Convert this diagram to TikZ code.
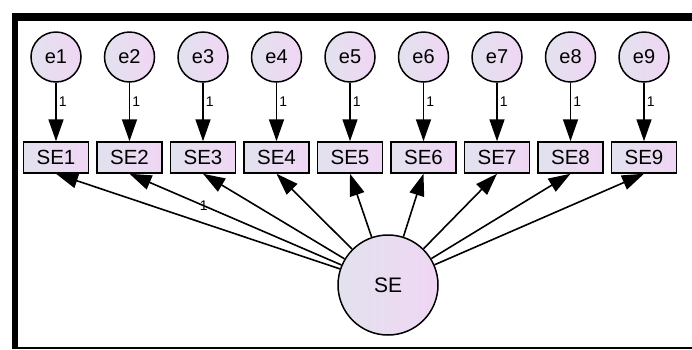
\documentclass[tikz,border=0pt]{standalone}
\usepackage{xcolor}
\usepackage{fontspec}
\setmainfont{Liberation Sans}
\usepackage{tikz}
\usetikzlibrary{positioning,arrows.meta}
\definecolor{fillL}{HTML}{E2E2EE}
\definecolor{fillR}{HTML}{F0D6F4}

\begin{document}
\begin{tikzpicture}[x=1pt,y=-1pt,
  err/.style={circle,draw,line width=1.5pt,minimum size=50pt,inner sep=0pt,
    left color=fillL,right color=fillR,font=\fontsize{20}{24}\selectfont},
  obs/.style={rectangle,draw,line width=1.5pt,minimum width=65pt,minimum height=31pt,
    inner sep=0pt,left color=fillL,right color=fillR,font=\fontsize{20.5}{24}\selectfont},
  lat/.style={circle,draw,line width=1.5pt,minimum size=100pt,inner sep=0pt,
    left color=fillL,right color=fillR,font=\fontsize{21}{25}\selectfont},
  arr/.style={-{Triangle[length=22pt,width=15pt]},line width=1.6pt},
  wt/.style={font=\fontsize{14}{16}\selectfont,inner sep=1pt}]
\useasboundingbox (0,0) rectangle (692,349);
% frame
\fill[black] (12,13) rectangle (692,21);
\fill[black] (12,13) rectangle (18,349);
\fill[black] (12,346.5) rectangle (692,349);
% errors
\node[err] (e1) at (56,57) {e1};
\node[err] (e2) at (129.5,57) {e2};
\node[err] (e3) at (203,57) {e3};
\node[err] (e4) at (276.5,57) {e4};
\node[err] (e5) at (350,57) {e5};
\node[err] (e6) at (423.5,57) {e6};
\node[err] (e7) at (497,57) {e7};
\node[err] (e8) at (570.5,57) {e8};
\node[err] (e9) at (644,57) {e9};
% observed
\node[obs] (se1) at (56,157.5) {SE1};
\node[obs] (se2) at (129.5,157.5) {SE2};
\node[obs] (se3) at (203,157.5) {SE3};
\node[obs] (se4) at (276.5,157.5) {SE4};
\node[obs] (se5) at (350,157.5) {SE5};
\node[obs] (se6) at (423.5,157.5) {SE6};
\node[obs] (se7) at (497,157.5) {SE7};
\node[obs] (se8) at (570.5,157.5) {SE8};
\node[obs] (se9) at (644,157.5) {SE9};
% latent
\node[lat] (se) at (388,285) {SE};
% error paths
\draw[arr] (e1)--(se1) node[wt,pos=0.33,right=1pt]{1};
\draw[arr] (e2)--(se2) node[wt,pos=0.33,right=1pt]{1};
\draw[arr] (e3)--(se3) node[wt,pos=0.33,right=1pt]{1};
\draw[arr] (e4)--(se4) node[wt,pos=0.33,right=1pt]{1};
\draw[arr] (e5)--(se5) node[wt,pos=0.33,right=1pt]{1};
\draw[arr] (e6)--(se6) node[wt,pos=0.33,right=1pt]{1};
\draw[arr] (e7)--(se7) node[wt,pos=0.33,right=1pt]{1};
\draw[arr] (e8)--(se8) node[wt,pos=0.33,right=1pt]{1};
\draw[arr] (e9)--(se9) node[wt,pos=0.33,right=1pt]{1};
% loadings
\draw[arr] (se)--(se1.south);
\draw[arr] (se)--(se2.south) node[wt,pos=0.65]{1};
\draw[arr] (se)--(se3.south);
\draw[arr] (se)--(se4.south);
\draw[arr] (se)--(se5.south);
\draw[arr] (se)--(se6.south);
\draw[arr] (se)--(se7.south);
\draw[arr] (se)--(se8.south);
\draw[arr] (se)--(se9.south);
\end{tikzpicture}
\end{document}
